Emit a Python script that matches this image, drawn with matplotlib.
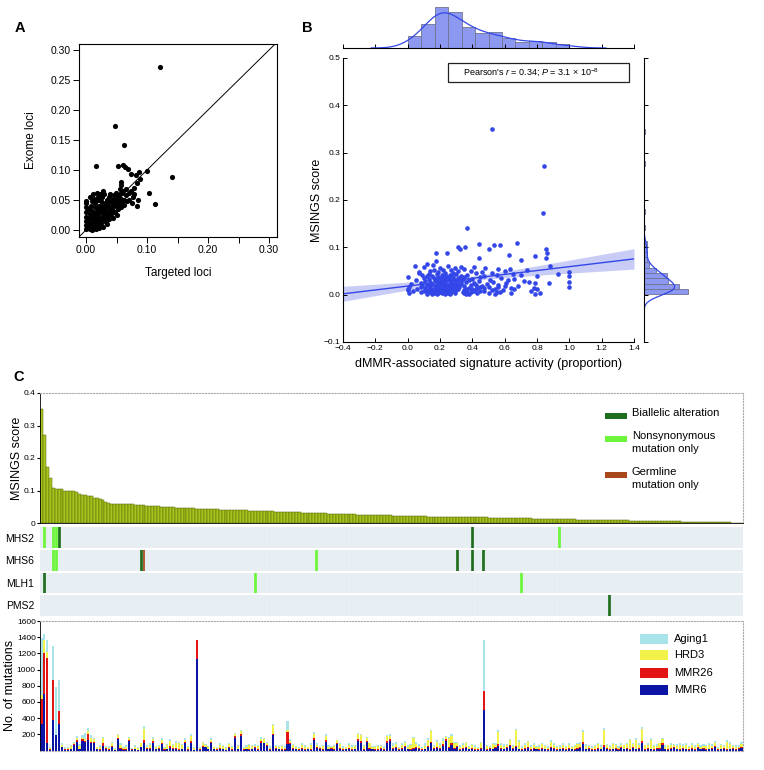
import numpy as np
import matplotlib
matplotlib.use("Agg")
import matplotlib.pyplot as plt
from matplotlib.patches import Rectangle
from matplotlib.colors import ListedColormap, BoundaryNorm

plt.rcParams["font.family"] = ["Liberation Sans", "DejaVu Sans"]
plt.rcParams["mathtext.fontset"] = "custom"
plt.rcParams["mathtext.rm"] = "Liberation Sans"
plt.rcParams["mathtext.it"] = "Liberation Sans:italic"

# ---- panel A: targeted vs exome loci
targeted_loci = [
    0.122, 0.047, 0.063, 0.016, 0.141, 0.100, 0.087, 0.104, 0.113, 0.053,
    0.060, 0.064, 0.068, 0.073, 0.082, 0.083, 0.057, 0.057, 0.085, 0.083, 0.077,
    0.000, 0.000, 0.000, 0.000, 0.000, 0.000, 0.000, 0.000,
    0.005, 0.004, 0.005, 0.006, 0.005, 0.004, 0.006,
    0.008, 0.008, 0.009, 0.008, 0.007, 0.008,
    0.010, 0.011, 0.010, 0.010, 0.011, 0.010,
    0.013, 0.013, 0.014, 0.013, 0.012, 0.013,
    0.016, 0.016, 0.015, 0.016, 0.017,
    0.018, 0.019, 0.018, 0.018, 0.019,
    0.020, 0.021, 0.020, 0.020, 0.021,
    0.023, 0.023, 0.024, 0.023, 0.022, 0.023,
    0.026, 0.026, 0.025, 0.026, 0.027,
    0.028, 0.029, 0.028, 0.028, 0.029,
    0.031, 0.032, 0.030, 0.031, 0.033,
    0.034, 0.035, 0.034, 0.033, 0.034,
    0.037, 0.037, 0.038, 0.036, 0.037,
    0.040, 0.041, 0.040, 0.039,
    0.043, 0.044, 0.043, 0.042,
    0.046, 0.046, 0.047, 0.045,
    0.049, 0.050, 0.049, 0.048,
    0.052, 0.053, 0.052, 0.051,
    0.055, 0.056, 0.055, 0.054,
    0.058, 0.059, 0.058, 0.057,
    0.062, 0.061, 0.063,
    0.066, 0.067, 0.065,
    0.070, 0.071,
    0.074, 0.075,
    0.078, 0.079,
    0.088,
]
exome_loci = [
    0.272, 0.173, 0.141, 0.106, 0.088, 0.098, 0.097, 0.061, 0.043, 0.106,
    0.109, 0.105, 0.102, 0.093, 0.091, 0.079, 0.080, 0.075, 0.050, 0.040, 0.055,
    0.002, 0.008, 0.015, 0.022, 0.030, 0.038, 0.045, 0.048,
    0.004, 0.012, 0.020, 0.027, 0.035, 0.010, 0.001,
    0.006, 0.018, 0.025, 0.040, 0.055, 0.002,
    0.000, 0.010, 0.032, 0.048, 0.060, 0.015,
    0.005, 0.022, 0.038, 0.052, 0.012, 0.028,
    0.008, 0.018, 0.045, 0.030, 0.002,
    0.062, 0.035, 0.014, 0.025, 0.050,
    0.010, 0.040, 0.020, 0.055, 0.004,
    0.030, 0.015, 0.048, 0.060, 0.008, 0.036,
    0.022, 0.042, 0.012, 0.055, 0.033,
    0.065, 0.038, 0.018, 0.005, 0.028,
    0.045, 0.025, 0.060, 0.035, 0.014,
    0.050, 0.030, 0.020, 0.040, 0.010,
    0.055, 0.038, 0.025, 0.045, 0.018,
    0.032, 0.048, 0.060, 0.022,
    0.040, 0.052, 0.028, 0.035,
    0.058, 0.045, 0.030, 0.020,
    0.050, 0.038, 0.062, 0.042,
    0.055, 0.045, 0.035, 0.025,
    0.060, 0.048, 0.068, 0.040,
    0.052, 0.062, 0.038, 0.045,
    0.050, 0.065, 0.042,
    0.058, 0.048, 0.068,
    0.062, 0.050,
    0.065, 0.045,
    0.060, 0.070,
    0.085,
]

# ---- panels B/C: per-sample MSINGS score (sorted high to low) and dMMR activity
msings_score = [
    0.350, 0.272, 0.173, 0.140, 0.109, 0.106, 0.104, 0.104, 0.100, 0.100,
    0.097, 0.097, 0.096, 0.089, 0.087, 0.087, 0.084, 0.082, 0.077, 0.077,
    0.073, 0.072, 0.065, 0.063,
    0.060, 0.060, 0.060, 0.059, 0.059, 0.058, 0.057, 0.057, 0.056, 0.055,
    0.055, 0.054, 0.053, 0.053, 0.052, 0.052, 0.051, 0.050, 0.050, 0.049,
    0.048, 0.048, 0.047, 0.047, 0.046, 0.046,
    0.045, 0.045, 0.045, 0.044, 0.044, 0.043, 0.043, 0.043, 0.042, 0.042,
    0.042, 0.041, 0.041, 0.041, 0.040, 0.040, 0.040, 0.040, 0.039, 0.039,
    0.039, 0.038, 0.038, 0.038, 0.037, 0.037, 0.037, 0.036, 0.036, 0.036,
    0.035, 0.035, 0.035, 0.034, 0.034, 0.034, 0.033, 0.033, 0.033, 0.032,
    0.032, 0.032, 0.031, 0.031, 0.031, 0.030, 0.030, 0.030, 0.029, 0.029,
    0.029, 0.028, 0.028, 0.028, 0.027, 0.027, 0.027, 0.027, 0.026, 0.026,
    0.026, 0.026, 0.025, 0.025, 0.025, 0.025, 0.024, 0.024, 0.024, 0.024,
    0.023, 0.023, 0.023, 0.023, 0.022, 0.022, 0.022, 0.022, 0.021, 0.021,
    0.021, 0.021, 0.020, 0.020, 0.020, 0.020, 0.020, 0.019, 0.019, 0.019,
    0.019, 0.019, 0.018, 0.018, 0.018, 0.018, 0.018, 0.017, 0.017, 0.017,
    0.017, 0.017, 0.017,
    0.016, 0.016, 0.016, 0.016, 0.016, 0.015, 0.015, 0.015, 0.015, 0.015,
    0.014, 0.014, 0.014, 0.014, 0.014, 0.013, 0.013, 0.013, 0.013, 0.013,
    0.012, 0.012, 0.012, 0.012, 0.012, 0.011, 0.011, 0.011, 0.011, 0.011,
    0.010, 0.010, 0.010, 0.010,
    0.010, 0.010, 0.009, 0.009, 0.009, 0.009, 0.009, 0.009, 0.008, 0.008,
    0.008, 0.008, 0.008, 0.008, 0.007, 0.007, 0.007, 0.007, 0.007, 0.007,
    0.006, 0.006, 0.006, 0.006, 0.006, 0.006, 0.005, 0.005, 0.005, 0.005,
    0.005, 0.005, 0.004, 0.004,
    0.004, 0.004, 0.004, 0.004, 0.003, 0.003, 0.003, 0.003, 0.003, 0.003,
    0.002, 0.002, 0.002, 0.002, 0.002, 0.001, 0.001, 0.001, 0.001,
]
dmmr_activity = [
    0.521, 0.845, 0.837, 0.365, 0.678, 0.439, 0.536, 0.571, 0.309, 0.357,
    0.505, 0.324, 0.857, 0.243, 0.173, 0.861, 0.627, 0.789, 0.443, 0.857,
    0.699, 0.177, 0.120, 0.155,
    0.043, 0.882, 0.250, 0.330, 0.410, 0.103, 0.290, 0.480, 0.200, 0.560,
    0.350, 0.630, 0.160, 0.270, 0.220, 0.740, 0.390, 0.140, 0.600, 0.310,
    0.460, 0.070, 1.000, 0.190, 0.520, 0.280,
    0.068, 0.230, 0.420, 0.928, 0.130, 0.300, 0.650, 0.180, 0.370, 0.550,
    0.260, 0.090, 0.700, 0.210, 0.330, 0.470, 0.150, 0.800, 1.000, 0.240,
    0.120, 0.280, 0.190, 0.004, 0.350, 0.220, 0.450, 0.160, 0.310, 0.250,
    0.580, 0.100, 0.200, 0.340, 0.270, 0.660, 0.130, 0.230, 0.400, 0.290,
    0.050, 0.210, 0.510, 0.320, 0.170, 0.380, 0.240, 0.620, 0.110, 0.300,
    0.260, 0.440, 0.180, 0.720, 0.360, 1.000, 0.748, 0.200, 0.140, 0.530,
    0.270, 0.330, 0.080, 0.230, 0.410, 0.789, 0.872, 0.190, 0.300, 0.610,
    0.210, 0.150, 0.330, 0.260, 0.490, 0.020, 0.180, 0.280, 0.390, 0.230,
    0.120, 0.310, 0.560, 0.200, 0.250, 0.420, 0.090, 0.170, 0.290, 0.680,
    0.350, 0.220, 0.140, 0.460, 0.270, 0.190, 0.600, 0.320, 0.240, 0.080,
    0.500, 1.000, 0.210,
    0.260, 0.450, 0.010, 0.300, 0.560, 0.380, 0.140, 0.780, 0.470, 0.200,
    0.430, 0.110, 0.270, 0.640, 0.190, 0.660, 0.420, 0.060, 0.800, 0.170,
    0.360, 0.240, 0.540, 0.130, 0.210, 0.310, 0.000, 0.280, 0.160, 0.400,
    0.220, 0.590, 0.250, 0.180,
    0.200, 0.300, 0.150, 0.400, 0.000, 0.520, 0.350, 0.190, 0.220, 0.450,
    0.120, 0.260, 0.760, 0.170, 0.030, 0.470, 0.280, 0.410, 0.210, 0.100,
    0.250, 0.550, 0.180, 0.570, 0.230, 0.370, 0.140, 0.200, 0.390, 0.080,
    0.340, 0.220, 0.500, 0.260,
    0.190, 0.350, 0.290, 0.010, 0.210, 0.820, 0.160, 0.250, 0.430, 0.640,
    0.540, 0.120, 0.230, 0.380, 0.180, 0.360, 0.790, 0.260, 0.150,
]

# ---- panel C heatmap: (sample column, kind) 1 biallelic, 2 nonsynonymous, 3 germline
genes = ["MHS2", "MHS6", "MLH1", "PMS2"]
mhs2_cols, mhs2_kind = [1, 4, 5, 6, 147, 177], [2, 2, 2, 1, 1, 2]
mhs6_cols, mhs6_kind = [4, 5, 34, 35, 94, 142, 147, 151], [2, 2, 1, 3, 2, 1, 1, 1]
mlh1_cols, mlh1_kind = [1, 73, 164], [1, 2, 2]
pms2_cols, pms2_kind = [194], [1]

# ---- panel C bottom: mutations per signature
mmr6 = [
    330, 700, 100, 10, 376, 190, 327, 40, 10, 10, 15, 70, 110, 15, 120, 110, 135, 90, 95, 15,
    10, 60, 20, 10, 40, 5, 140, 20, 10, 10, 120, 10, 15, 5, 40, 100, 20, 25, 100, 15,
    20, 80, 10, 15, 30, 20, 20, 10, 15, 100, 10, 100, 5, 1134, 10, 50, 40, 20, 90, 15,
    10, 20, 15, 5, 30, 10, 160, 20, 180, 10, 15, 10, 20, 30, 10, 100, 90, 60, 10, 190,
    20, 15, 10, 10, 80, 80, 20, 15, 10, 20, 10, 15, 10, 130, 30, 20, 10, 110, 15, 20,
    10, 80, 20, 10, 15, 20, 10, 15, 120, 100, 10, 110, 20, 15, 10, 10, 20, 10, 100, 120,
    20, 30, 10, 20, 40, 15, 10, 20, 30, 20, 10, 15, 40, 100, 20, 30, 20, 60, 120, 30,
    70, 20, 40, 10, 20, 30, 15, 20, 10, 10, 20, 500, 10, 20, 15, 30, 60, 20, 15, 30,
    60, 20, 50, 15, 10, 20, 30, 10, 20, 15, 10, 20, 15, 10, 30, 20, 10, 15, 20, 10,
    20, 15, 10, 20, 30, 80, 15, 20, 10, 10, 20, 15, 50, 20, 10, 15, 20, 10, 30, 15,
    20, 10, 30, 15, 20, 90, 10, 20, 15, 10, 20, 20, 70, 15, 10, 20, 30, 15, 10, 20,
    15, 10, 20, 10, 30, 15, 20, 10, 15, 20, 40, 10, 15, 20, 10, 15, 20, 10, 20, 30,
]
mmr26 = [
    310, 510, 1040, 5, 500, 0, 160, 10, 5, 5, 10, 10, 20, 5, 20, 10, 70, 20, 15, 5,
    5, 30, 10, 5, 20, 5, 20, 10, 5, 5, 10, 5, 5, 5, 10, 30, 10, 5, 15, 10,
    10, 20, 5, 10, 30, 10, 10, 5, 10, 10, 5, 20, 5, 226, 5, 10, 10, 5, 15, 5,
    5, 10, 10, 5, 10, 5, 20, 5, 20, 5, 10, 5, 5, 10, 5, 15, 10, 10, 5, 20,
    10, 10, 5, 5, 150, 20, 10, 5, 5, 10, 5, 5, 5, 20, 10, 10, 5, 15, 5, 10,
    5, 15, 10, 5, 5, 10, 5, 5, 20, 15, 5, 10, 10, 5, 5, 5, 10, 5, 15, 20,
    10, 15, 5, 10, 20, 5, 5, 10, 15, 10, 5, 5, 20, 10, 10, 15, 10, 20, 25, 20,
    30, 10, 15, 5, 10, 10, 5, 10, 5, 5, 10, 233, 5, 10, 5, 15, 20, 10, 5, 10,
    15, 10, 10, 5, 5, 10, 15, 5, 10, 10, 5, 10, 5, 5, 15, 10, 5, 10, 10, 5,
    10, 5, 5, 10, 15, 25, 5, 10, 5, 5, 10, 5, 20, 10, 5, 5, 10, 5, 15, 10,
    10, 5, 20, 10, 10, 30, 5, 15, 5, 5, 10, 10, 30, 5, 5, 10, 15, 5, 5, 10,
    10, 5, 10, 5, 15, 10, 10, 5, 10, 10, 20, 5, 10, 10, 5, 10, 10, 5, 10, 15,
]
hrd3 = [
    50, 150, 80, 20, 0, 0, 0, 20, 10, 20, 30, 20, 30, 40, 20, 20, 40, 50, 30, 20,
    30, 60, 20, 20, 30, 10, 30, 40, 20, 30, 20, 10, 30, 20, 40, 140, 20, 40, 30, 20,
    30, 30, 20, 40, 60, 40, 70, 80, 40, 20, 30, 60, 20, 0, 20, 30, 20, 20, 30, 20,
    20, 40, 30, 20, 40, 30, 20, 30, 40, 20, 20, 60, 30, 20, 40, 30, 40, 20, 20, 100,
    30, 20, 40, 20, 30, 20, 40, 20, 20, 40, 30, 20, 60, 60, 30, 20, 40, 60, 30, 20,
    40, 30, 50, 20, 20, 40, 30, 40, 60, 80, 40, 30, 60, 20, 30, 40, 30, 20, 60, 40,
    30, 40, 20, 40, 40, 20, 60, 120, 40, 30, 20, 40, 70, 130, 30, 60, 40, 40, 20, 100,
    80, 60, 40, 30, 40, 50, 20, 40, 30, 20, 60, 0, 40, 20, 60, 30, 150, 40, 40, 30,
    50, 30, 190, 90, 20, 40, 60, 30, 40, 20, 30, 50, 40, 20, 60, 40, 30, 20, 40, 30,
    40, 30, 40, 50, 40, 120, 40, 30, 20, 40, 50, 30, 180, 40, 30, 60, 40, 20, 30, 40,
    50, 110, 30, 110, 40, 150, 50, 30, 110, 40, 30, 60, 40, 30, 50, 40, 30, 40, 60, 30,
    50, 30, 40, 30, 40, 20, 30, 40, 50, 30, 40, 20, 40, 30, 90, 60, 30, 30, 20, 40,
]
aging1 = [
    700, 80, 140, 10, 420, 590, 380, 20, 20, 15, 20, 10, 20, 20, 30, 80, 40, 30, 20, 10,
    20, 20, 10, 20, 20, 10, 20, 20, 10, 20, 20, 10, 20, 10, 10, 30, 20, 30, 20, 10,
    10, 20, 10, 20, 20, 10, 20, 10, 20, 20, 10, 20, 10, 0, 10, 20, 10, 10, 20, 10,
    10, 20, 10, 20, 20, 10, 20, 20, 10, 10, 20, 10, 20, 20, 10, 20, 10, 20, 20, 20,
    10, 10, 20, 20, 100, 20, 10, 20, 10, 20, 20, 10, 20, 20, 20, 10, 10, 20, 20, 10,
    20, 10, 10, 20, 10, 20, 20, 10, 20, 10, 20, 20, 10, 20, 10, 20, 10, 20, 20, 30,
    30, 20, 10, 20, 20, 30, 10, 20, 20, 20, 10, 30, 20, 20, 10, 20, 20, 30, 20, 20,
    30, 20, 10, 20, 30, 20, 20, 10, 20, 10, 20, 627, 20, 10, 20, 20, 30, 20, 20, 10,
    20, 10, 20, 20, 20, 20, 10, 20, 20, 10, 20, 20, 10, 20, 20, 30, 10, 20, 20, 10,
    20, 10, 20, 10, 20, 30, 20, 10, 20, 20, 10, 20, 30, 10, 20, 20, 10, 20, 20, 10,
    20, 20, 10, 20, 20, 20, 10, 30, 20, 10, 20, 10, 20, 20, 10, 20, 10, 20, 20, 20,
    20, 10, 20, 20, 10, 20, 20, 10, 20, 20, 20, 10, 20, 10, 20, 20, 10, 30, 20, 20,
]


def box(x0, y0, x1, y1):
    # pixel box (top-left origin) -> figure fraction
    return [x0 / 764, 1 - y1 / 770, (x1 - x0) / 764, (y1 - y0) / 770]


def kde(values, grid):
    v = np.asarray(values)
    bw = v.std(ddof=1) * len(v) ** (-1 / 5)
    z = (grid[:, None] - v[None, :]) / bw
    return np.exp(-0.5 * z ** 2).sum(axis=1) / (len(v) * bw * np.sqrt(2 * np.pi)), bw


fig = plt.figure(figsize=(7.64, 7.70), dpi=100)

# ================= A
ax_a = fig.add_axes(box(79, 44, 277, 237))
ax_a.scatter(targeted_loci, exome_loci, s=14, color="black", linewidths=0)
ax_a.axline((0, 0), slope=1, color="black", lw=0.7)
ax_a.set_xlim(-0.0115, 0.313)
ax_a.set_ylim(-0.0117, 0.31)
ticks_a = np.arange(7) * 0.05
ax_a.set_xticks(ticks_a)
ax_a.set_xticklabels(["0.00", "", "0.10", "", "0.20", "", "0.30"])
ax_a.set_yticks(ticks_a)
ax_a.set_yticklabels([f"{t:.2f}" for t in ticks_a])
ax_a.tick_params(direction="out", length=4, width=0.7, labelsize=7.5, pad=2)
for s in ax_a.spines.values():
    s.set_linewidth(0.8)
ax_a.set_xlabel("Targeted loci", fontsize=8.5)
ax_a.set_ylabel("Exome loci", fontsize=8.5)
ax_a.xaxis.set_label_coords(0.5, -0.155)
ax_a.yaxis.set_label_coords(-0.212, 0.5)

# ================= B
blue = "#3346e8"
ax_b = fig.add_axes(box(343, 58, 634, 342))
ax_top = fig.add_axes(box(343, 5, 634, 48))
ax_right = fig.add_axes(box(644, 58, 700, 342))

x = np.array(dmmr_activity)
y = np.array(msings_score)
ax_b.scatter(x, y, s=11, color=blue, linewidths=0, zorder=3)

# regression line with 95% band
slope, icept = np.polyfit(x, y, 1)
xs = np.linspace(-0.4, 1.4, 100)
resid = y - (icept + slope * x)
sd = np.sqrt((resid ** 2).sum() / (len(x) - 2))
se = sd * np.sqrt(1 / len(x) + (xs - x.mean()) ** 2 / ((x - x.mean()) ** 2).sum())
yfit = icept + slope * xs
ax_b.fill_between(xs, yfit - 1.97 * se, yfit + 1.97 * se, color="#c9cdf6", lw=0, zorder=1)
ax_b.plot(xs, yfit, color=blue, lw=1.0, zorder=2)

ax_b.set_xlim(-0.4, 1.4)
ax_b.set_ylim(-0.1, 0.5)
xt = np.round(np.arange(-0.4, 1.41, 0.2), 1)
yt = np.round(np.arange(-0.1, 0.51, 0.1), 1)
ax_b.set_xticks(xt)
ax_b.set_xticklabels([f"{v:.1f}".replace("-", "\u2212") for v in xt])
ax_b.set_yticks(yt)
ax_b.set_yticklabels([f"{v:.1f}".replace("-", "\u2212") for v in yt])
ax_b.tick_params(direction="in", length=3, width=0.7, labelsize=6, pad=2)
ax_b.spines["top"].set_visible(False)
ax_b.spines["right"].set_visible(False)
ax_b.set_xlabel("dMMR-associated signature activity (proportion)", fontsize=9)
ax_b.set_ylabel("MSINGS score", fontsize=9)
ax_b.xaxis.set_label_coords(0.5, -0.056)
ax_b.yaxis.set_label_coords(-0.07, 0.5)

ax_b.add_patch(Rectangle((0.361, 0.915), 0.622, 0.067, transform=ax_b.transAxes,
                         fill=False, edgecolor="#222222", lw=0.9))
ax_b.text(0.411, 0.948, "Pearson's $\\it{r}$ = 0.34; $\\it{P}$ = 3.1 \u00d7 10$^{-8}$",
          transform=ax_b.transAxes, fontsize=6.5, va="center", ha="left")

# top marginal
dens_x, edges_x, _ = ax_top.hist(x, bins=12, range=(0, 1), density=True, color="#8d99f0",
                                 edgecolor="#6f7390", lw=0.6)
gx = np.linspace(-0.4, 1.4, 300)
kx, bwx = kde(x, gx)
keep = (gx > x.min() - 3 * bwx) & (gx < x.max() + 3 * bwx)
ax_top.plot(gx[keep], kx[keep], color=blue, lw=0.9)
ax_top.set_xlim(-0.4, 1.4)
ax_top.set_ylim(0, dens_x.max() * 43 / 41.3)
ax_top.set_xticks(xt)
ax_top.tick_params(axis="x", direction="in", length=3, width=0.7, labelbottom=False)
ax_top.tick_params(axis="y", left=False, labelleft=False)
for k in ["top", "right", "left"]:
    ax_top.spines[k].set_visible(False)

# right marginal
dens_y, _, _ = ax_right.hist(y, bins=31, density=True, orientation="horizontal",
                             color="#8d99f0", edgecolor="#6f7390", lw=0.6)
gy = np.linspace(-0.1, 0.5, 400)
ky, bwy = kde(y, gy)
keep = (gy > y.min() - 3 * bwy) & (gy < y.max() + 3 * bwy)
ax_right.plot(ky[keep], gy[keep], color=blue, lw=0.9)
ax_right.set_ylim(-0.1, 0.5)
ax_right.set_xlim(0, dens_y.max() * 56 / 44)
ax_right.set_yticks(yt)
ax_right.tick_params(axis="y", direction="in", length=3, width=0.7, labelleft=False)
ax_right.tick_params(axis="x", bottom=False, labelbottom=False)
for k in ["top", "right", "bottom"]:
    ax_right.spines[k].set_visible(False)

# ================= C top: sorted MSINGS scores
n = len(msings_score)
cols = np.arange(n)
ax_c1 = fig.add_axes(box(40, 393, 743, 523))
ax_c1.bar(cols, sorted(msings_score, reverse=True), width=1.0, color="#a6c41d",
          edgecolor="#55650a", lw=0.35)
ax_c1.set_xlim(-0.5, n - 0.5)
ax_c1.set_ylim(0, 0.4)
ax_c1.set_xticks([])
ax_c1.set_yticks([0, 0.1, 0.2, 0.3, 0.4])
ax_c1.set_yticklabels(["0", "0.1", "0.2", "0.3", "0.4"])
ax_c1.tick_params(axis="y", length=2, labelsize=6, pad=1)
for k in ["top", "right"]:
    ax_c1.spines[k].set_color("#aaaaaa")
    ax_c1.spines[k].set_linestyle(":")
ax_c1.spines["left"].set_linewidth(0.6)
ax_c1.spines["bottom"].set_linewidth(0.6)
ax_c1.set_ylabel("MSINGS score", fontsize=9)
ax_c1.yaxis.set_label_coords(-0.0242, 0.5)

legend_top = [("#1f6e1f", "Biallelic alteration", 0.823),
              ("#6cf53a", "Nonsynonymous\nmutation only", 0.646),
              ("#a8461c", "Germline\nmutation only", 0.369)]
for color, label, yc in legend_top:
    ax_c1.add_patch(Rectangle((0.8037, yc - 0.025), 0.0313, 0.05, transform=ax_c1.transAxes,
                              color=color, lw=0))
    ax_c1.text(0.842, yc + 0.06, label, transform=ax_c1.transAxes, fontsize=8,
               va="top", ha="left", linespacing=1.35)

# ================= C heatmap
status = np.zeros((len(genes), n))
for row, (c_list, k_list) in enumerate([(mhs2_cols, mhs2_kind), (mhs6_cols, mhs6_kind),
                                        (mlh1_cols, mlh1_kind), (pms2_cols, pms2_kind)]):
    for c, k in zip(c_list, k_list):
        status[row, c] = k
ax_c2 = fig.add_axes(box(40, 527, 743, 616))
cmap = ListedColormap(["#e5edf2", "#1f6e1f", "#6cf53a", "#a8461c"])
norm = BoundaryNorm([-0.5, 0.5, 1.5, 2.5, 3.5], cmap.N)
ax_c2.pcolormesh(np.arange(n + 1) - 0.5, np.arange(len(genes) + 1), status, cmap=cmap,
                 norm=norm, edgecolors="none")
ax_c2.vlines(np.arange(n + 1) - 0.5, 0, len(genes), color="white", lw=0.3, alpha=0.6)
for r in range(1, len(genes)):
    ax_c2.axhline(r, color="white", lw=1.4)
ax_c2.set_xlim(-0.5, n - 0.5)
ax_c2.set_ylim(len(genes), 0)
ax_c2.set_xticks([])
ax_c2.set_yticks(np.arange(len(genes)) + 0.5)
ax_c2.set_yticklabels(genes, fontsize=7.5)
ax_c2.tick_params(axis="y", length=0, pad=4)
for s in ax_c2.spines.values():
    s.set_visible(False)

# ================= C bottom: signature mutations
ax_c3 = fig.add_axes(box(40, 621, 743, 750.6))
sig_series = [("MMR6", mmr6, "#0c14a6"), ("MMR26", mmr26, "#e31414"),
              ("HRD3", hrd3, "#f2f24a"), ("Aging1", aging1, "#a9e3ea")]
base = np.zeros(n)
for name, vals, color in sig_series:
    ax_c3.bar(cols, vals, bottom=base, width=0.72, color=color, lw=0)
    base = base + np.array(vals)
ax_c3.set_xlim(-0.5, n - 0.5)
ax_c3.set_ylim(0, 1600)
ax_c3.set_xticks([])
ax_c3.set_yticks(np.arange(200, 1601, 200))
ax_c3.tick_params(axis="y", length=2, labelsize=6, pad=1)
for k in ["top", "right", "bottom"]:
    ax_c3.spines[k].set_color("#aaaaaa")
    ax_c3.spines[k].set_linestyle(":")
ax_c3.spines["left"].set_linewidth(0.6)
ax_c3.set_ylabel("No. of mutations", fontsize=9)
ax_c3.yaxis.set_label_coords(-0.0341, 0.5)

legend_bottom = [("Aging1", "#a9e3ea", 0.861), ("HRD3", "#f2f24a", 0.738),
                 ("MMR26", "#e31414", 0.599), ("MMR6", "#0c14a6", 0.468)]
for label, color, yc in legend_bottom:
    ax_c3.add_patch(Rectangle((0.8535, yc - 0.04), 0.0395, 0.08, transform=ax_c3.transAxes,
                              color=color, lw=0))
    ax_c3.text(0.902, yc, label, transform=ax_c3.transAxes, fontsize=8, va="center", ha="left")

# panel letters
fig.text(0.026, 0.963, "A", fontsize=10.5, fontweight="bold", ha="center", va="center")
fig.text(0.402, 0.964, "B", fontsize=10.5, fontweight="bold", ha="center", va="center")
fig.text(0.025, 0.511, "C", fontsize=10.5, fontweight="bold", ha="center", va="center")

fig.savefig("out.png", dpi=100)
